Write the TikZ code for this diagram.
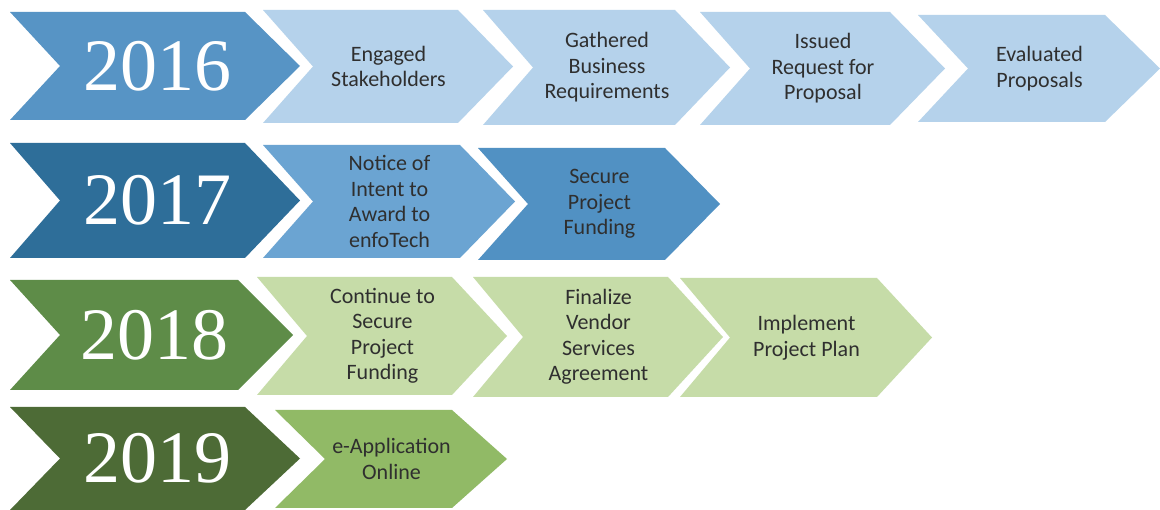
\documentclass[tikz,border=0pt]{standalone}
\usepackage{fontspec}
\setmainfont{Carlito}
\newfontfamily\yearfont{Liberation Serif}
\definecolor{textgray}{HTML}{2F2F2F}
\definecolor{yA}{HTML}{5794C5}
\definecolor{sA}{HTML}{B5D2EB}
\definecolor{yB}{HTML}{2E6E99}
\definecolor{sB}{HTML}{6BA4D2}
\definecolor{sBb}{HTML}{5191C3}
\definecolor{yC}{HTML}{5E8C48}
\definecolor{sC}{HTML}{C6DCA8}
\definecolor{yD}{HTML}{4D6B36}
\definecolor{sD}{HTML}{91BA66}
\newcommand\chevshape[8]{%
  \fill[#6] (#2,#4) -- ({#3-55},#4) -- (#3,{(#4+#5)/2}) -- ({#3-55},#5) -- (#2,#5) -- ({#2+50},{(#4+#5)/2}) -- cycle;
  \node[#7] (#1) at ({(#2+50+#3-55)/2},{(#4+#5)/2}) {#8};
}
\begin{document}
\begin{tikzpicture}[x=1pt,y=-1pt,
  steptext/.style={align=center,font=\fontsize{22}{25.5}\selectfont,text=textgray,inner sep=0pt,xshift=3pt},
  yeartext/.style={font=\yearfont\fontsize{74}{74}\selectfont,text=white,inner sep=0pt,xshift=5pt}]
\useasboundingbox[fill=white] (0,0) rectangle (1160,510);
% 2016
\chevshape{y16}{10}{300}{12}{120}{yA}{yeartext}{2016}
\chevshape{s161}{263}{513}{10}{123}{sA}{steptext}{Engaged\\Stakeholders}
\chevshape{s162}{483}{730}{10}{125}{sA}{steptext}{Gathered\\Business\\Requirements}
\chevshape{s163}{700}{945}{12}{125}{sA}{steptext}{Issued\\Request for\\Proposal}
\chevshape{s164}{918}{1160}{15}{122}{sA}{steptext}{Evaluated\\Proposals}
% 2017
\chevshape{y17}{10}{300}{143}{258}{yB}{yeartext}{2017}
\chevshape{s171}{263}{515}{145}{258}{sB}{steptext}{Notice of\\Intent to\\Award to\\enfoTech}
\chevshape{s172}{478}{720}{148}{260}{sBb}{steptext}{Secure\\Project\\Funding}
% 2018
\chevshape{y18}{10}{293}{280}{390}{yC}{yeartext}{2018}
\chevshape{s181}{257}{507}{277}{395}{sC}{steptext}{Continue to\\Secure\\Project\\Funding}
\chevshape{s182}{473}{723}{277}{397}{sC}{steptext}{Finalize\\Vendor\\Services\\Agreement}
\chevshape{s183}{680}{932}{278}{397}{sC}{steptext}{Implement\\Project Plan}
% 2019
\chevshape{y19}{10}{300}{407}{510}{yD}{yeartext}{2019}
\chevshape{s191}{275}{507}{410}{508}{sD}{steptext}{e-Application\\Online}
\end{tikzpicture}
\end{document}
